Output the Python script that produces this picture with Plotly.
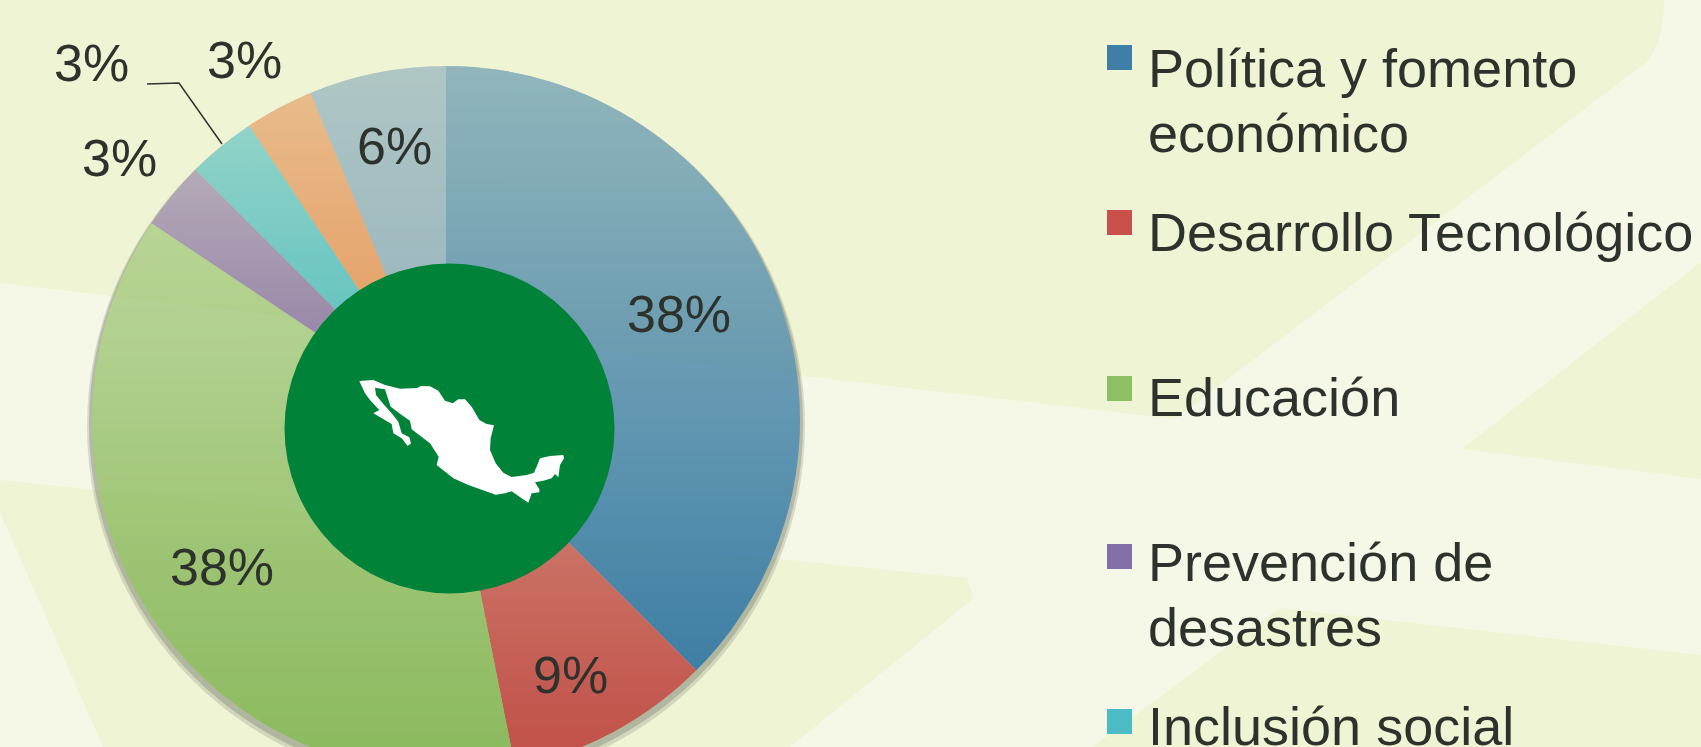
import base64, math
import plotly.graph_objects as go

W, H = 1701, 780
categories = ["Política y fomento económico", "Desarrollo Tecnológico", "Educación",
              "Prevención de desastres", "Inclusión social", "Categoría 6", "Categoría 7"]
values = [12, 3, 12, 1, 1, 1, 2]
pct_labels = ["38%", "9%", "38%", "3%", "3%", "3%", "6%"]
slice_colors = ["#3f7fa5", "#c2524a", "#8dbb60", "#8a76a2", "#4fbcbf", "#e4965a", "#92b1bd"]
slice_fade = [0.47, 0.32, 0.45, 0.42, 0.42, 0.40, 0.32]
label_xy = [(679, 314), (570, 675), (222, 567), (119, 158), (91, 63), (244, 60), (394, 146)]
legend_lines = [["Política y fomento", "económico"], ["Desarrollo Tecnológico"], ["Educación"],
                ["Prevención de", "desastres"], ["Inclusión social"]]
legend_colors = ["#3f7fa5", "#c8504a", "#8fbf65", "#8470a8", "#4bbcc6"]
legend_baseline = [85, 249, 414, 579, 743]
legend_swatch_top = [45, 210, 376, 544, 709]

BG_DARK, BG_LIGHT = "#eff4d5", "#f5f8e6"
bg_polys = [
    "M0,0 L1664,0 Q1664,40 1647,62 L1175,419 L0,283 Z",
    "M1462,449 L1701,262 L1701,479 Z",
    "M0,480 L967,578 L974,598 L790,747 L790,780 L103,780 L103,747 L0,512 Z",
    "M1092,747 L1280,608 L1701,655 L1701,780 L1092,780 Z",
]
mexico = [(88,93),(130,90),(165,105),(210,116),(262,114),(272,108),(300,109),(325,122),(345,152),
          (368,160),(385,148),(405,148),(425,170),(448,210),(470,222),(492,226),(482,265),(480,300),
          (497,340),(520,368),(545,381),(590,375),(612,368),(622,345),(630,325),(660,318),(700,315),
          (702,325),(690,345),(685,382),(675,372),(665,385),(640,392),(615,397),(628,418),(628,427),
          (605,430),(595,458),(575,445),(545,424),(525,430),(497,434),(415,405),(370,385),(320,345),
          (326,320),(300,280),(245,238),(240,212),(215,195),(182,170),(165,118),(135,113),(138,135),
          (160,162),(185,190),(205,215),(215,250),(238,262),(243,280),(233,288),(215,265),(190,250),
          (185,222),(130,190),(148,180),(120,150),(105,130)]

CX, CY, R = 446, 420, 354
HUB = (449.5, 428.5, 165)
FONT = "Liberation Sans, Arial, sans-serif"
TEXT = "#2e322c"

px = lambda x: x / W
py = lambda y: 1 - y / H

# ---- translucent look of the slices: each slice fades into the background towards its top
total = sum(values)
defs, groups, acc = [], [], 0.0
bg_svg = f'<rect width="{W}" height="{H}" fill="{BG_LIGHT}"/>' + "".join(
    f'<path d="{p}" fill="{BG_DARK}"/>' for p in bg_polys)
defs.append(f'<g id="bg">{bg_svg}</g>')
for i, v in enumerate(values):
    a0 = acc / total * 2 * math.pi
    acc += v
    a1 = acc / total * 2 * math.pi
    steps = max(2, int((a1 - a0) / 0.02))
    pts = [(CX + R * math.sin(a0 + (a1 - a0) * k / steps), CY - R * math.cos(a0 + (a1 - a0) * k / steps))
           for k in range(steps + 1)]
    ys = [CY] + [p[1] for p in pts]
    y0, y1 = min(ys), min(max(ys), 747)
    d = f"M{CX},{CY} " + " ".join(f"L{x:.2f},{y:.2f}" for x, y in pts) + " Z"
    defs.append(f'<clipPath id="c{i}"><path d="{d}"/></clipPath>')
    defs.append(f'<linearGradient id="g{i}" gradientUnits="userSpaceOnUse" x1="0" x2="0" y1="{y0:.1f}" y2="{y1:.1f}">'
                f'<stop offset="0" stop-color="#fff" stop-opacity="{slice_fade[i]}"/>'
                f'<stop offset="1" stop-color="#fff" stop-opacity="0"/></linearGradient>')
    defs.append(f'<mask id="m{i}" maskUnits="userSpaceOnUse" x="0" y="0" width="{W}" height="{H}">'
                f'<rect width="{W}" height="{H}" fill="url(#g{i})"/></mask>')
    groups.append(f'<g clip-path="url(#c{i})"><g mask="url(#m{i})"><use href="#bg"/></g></g>')
svg = (f'<svg xmlns="http://www.w3.org/2000/svg" width="{W}" height="{H}" viewBox="0 0 {W} {H}">'
       f'<defs>{"".join(defs)}</defs>{"".join(groups)}</svg>')
overlay = "data:image/svg+xml;base64," + base64.b64encode(svg.encode()).decode()

fig = go.Figure(go.Pie(
    labels=categories, values=values, sort=False, direction="clockwise", rotation=0,
    marker=dict(colors=slice_colors, line=dict(width=0)),
    textinfo="none", hoverinfo="label+percent", showlegend=False,
    domain=dict(x=[px(CX - R), px(CX + R)], y=[py(CY + R), py(CY - R)]),
))


def to_paper_path(d):
    out = []
    for tok in d.replace(",", " ").split():
        if tok[0].isalpha():
            out.append(tok[0])
            tok = tok[1:]
            if not tok:
                continue
        out.append(tok)
    res, is_x = [], True
    for t in out:
        if t.isalpha():
            res.append(t)
            is_x = True
        else:
            res.append(f"{px(float(t)):.5f}" if is_x else f"{py(float(t)):.5f}")
            is_x = not is_x
    return " ".join(res)


shapes = [dict(type="rect", xref="paper", yref="paper", x0=0, x1=1, y0=0, y1=1,
               fillcolor=BG_LIGHT, line_width=0, layer="below")]
for p in bg_polys:
    shapes.append(dict(type="path", xref="paper", yref="paper", path=to_paper_path(p),
                       fillcolor=BG_DARK, line_width=0, layer="below"))
# soft drop shadow of the pie, falling straight down
for off, rr, col in [(6, R + 5, "rgba(110,115,100,0.22)"), (4, R + 3, "rgba(110,115,100,0.32)")]:
    shapes.append(dict(type="circle", xref="paper", yref="paper", layer="below", line_width=0, fillcolor=col,
                       x0=px(CX - rr), x1=px(CX + rr), y0=py(CY + off + rr), y1=py(CY + off - rr)))
# centre disc and map
hx, hy, hr = HUB
shapes.append(dict(type="circle", xref="paper", yref="paper", layer="above", line_width=0, fillcolor="#018239",
                   x0=px(hx - hr), x1=px(hx + hr), y0=py(hy + hr), y1=py(hy - hr)))
map_path = "M" + " L".join(f"{px(330 + x / 3):.5f} {py(350 + y / 3):.5f}" for x, y in mexico) + " Z"
shapes.append(dict(type="path", xref="paper", yref="paper", layer="above", path=map_path,
                   fillcolor="#ffffff", line_width=0))
# leader line
shapes.append(dict(type="path", xref="paper", yref="paper", layer="above",
                   path=to_paper_path("M147,84 L179,83 L222,144"),
                   line=dict(color="#30342c", width=1.5)))
# legend swatches
for c, top in zip(legend_colors, legend_swatch_top):
    shapes.append(dict(type="rect", xref="paper", yref="paper", layer="above", line_width=0, fillcolor=c,
                       x0=px(1107), x1=px(1132), y0=py(top + 25), y1=py(top)))

annotations = []
for t, (x, y) in zip(pct_labels, label_xy):
    annotations.append(dict(text=t, xref="paper", yref="paper", x=px(x), y=py(y), showarrow=False,
                            xanchor="center", yanchor="middle", font=dict(family=FONT, size=52, color=TEXT)))
for lines, base in zip(legend_lines, legend_baseline):
    for k, line in enumerate(lines):
        annotations.append(dict(text=line, xref="paper", yref="paper", x=px(1146), y=py(base + 65 * k - 17),
                                showarrow=False, xanchor="left", yanchor="middle",
                                font=dict(family=FONT, size=54, color=TEXT)))

fig.update_layout(
    width=W, height=H, autosize=False, margin=dict(l=0, r=0, t=0, b=0, pad=0),
    paper_bgcolor=BG_LIGHT, plot_bgcolor=BG_LIGHT, shapes=shapes, annotations=annotations,
    images=[dict(source=overlay, xref="paper", yref="paper", x=0, y=1, sizex=1, sizey=1,
                 xanchor="left", yanchor="top", sizing="stretch", layer="above")],
)

fig.write_html("out.html", config=dict(displayModeBar=False), post_script=(
    "document.documentElement.style.overflow='hidden';"
    "document.documentElement.style.height='747px';"
    "document.body.style.margin='0';document.body.style.height='747px';document.body.style.overflow='hidden';"
))
